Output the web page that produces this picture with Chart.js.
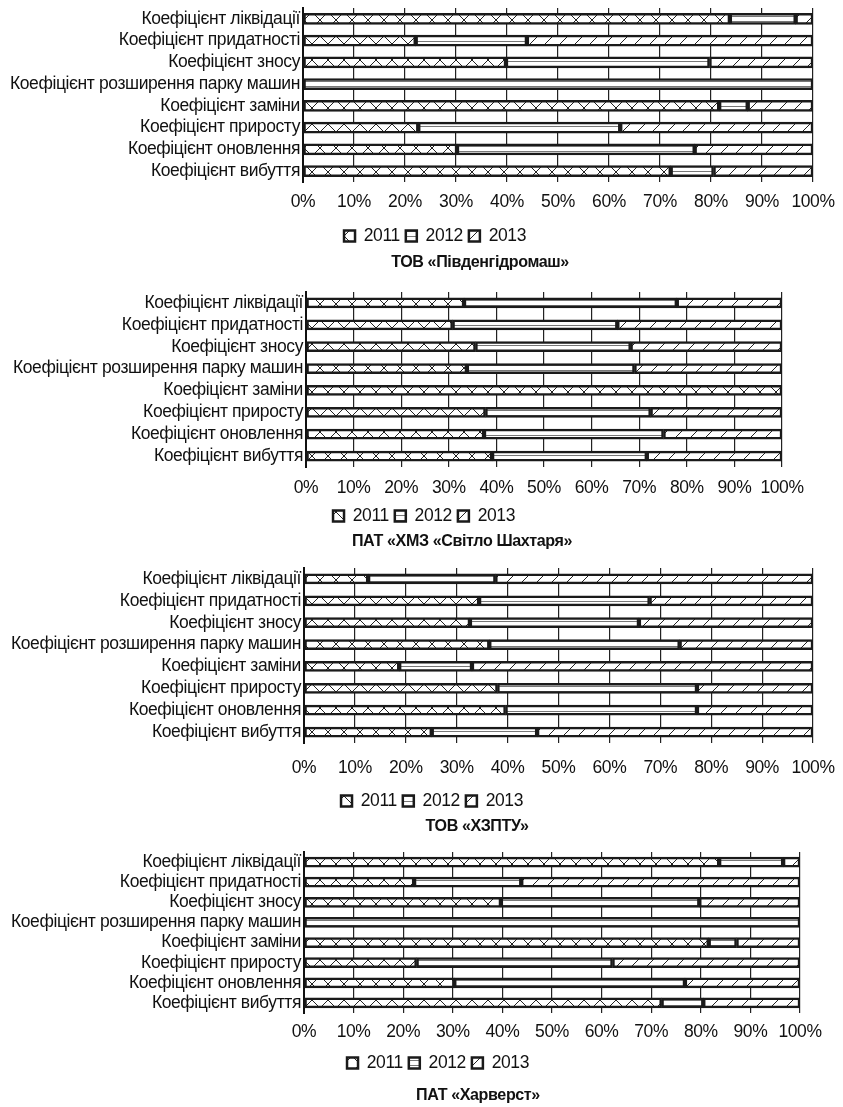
<!DOCTYPE html>
<html>
<head>
<meta charset="utf-8">
<script src="https://cdn.jsdelivr.net/npm/chart.js@4.4.0/dist/chart.umd.min.js"></script>
<style>
  body { margin: 0; background: #fff; width: 843px; height: 1107px; position: relative; overflow: hidden; }
  canvas { position: absolute; left: 0; }
</style>
</head>
<body>
<script>
// categories (top to bottom) and series
const categories = [
  'Коефіцієнт ліквідації',
  'Коефіцієнт придатності',
  'Коефіцієнт зносу',
  'Коефіцієнт розширення парку машин',
  'Коефіцієнт заміни',
  'Коефіцієнт приросту',
  'Коефіцієнт оновлення',
  'Коефіцієнт вибуття'
]
const years = ['2011', '2012', '2013']
const xTicks = [0, 10, 20, 30, 40, 50, 60, 70, 80, 90, 100]
const companies = ['ТОВ «Південгідромаш»', 'ПАТ «ХМЗ «Світло Шахтаря»', 'ТОВ «ХЗПТУ»', 'ПАТ «Харверст»']

// shares, %
const pivden2011 = [83.7, 22.1, 39.8, 0, 81.6, 22.6, 30.2, 72.1]
const pivden2012 = [12.9, 21.8, 39.9, 100, 5.6, 39.6, 46.6, 8.4]
const pivden2013 = [3.4, 56.1, 20.3, 0, 12.8, 37.8, 23.2, 19.5]

const svitlo2011 = [33.2, 30.8, 35.6, 33.8, 100, 37.7, 37.4, 39.1]
const svitlo2012 = [44.7, 34.6, 32.6, 35.2, 0, 34.7, 37.7, 32.5]
const svitlo2013 = [22.1, 34.6, 31.8, 31.0, 0, 27.6, 24.9, 28.4]

const khzptu2011 = [12.6, 34.4, 32.6, 36.4, 18.7, 38.0, 39.6, 25.1]
const khzptu2012 = [25.0, 33.5, 33.2, 37.4, 14.3, 39.2, 37.6, 20.7]
const khzptu2013 = [62.4, 32.1, 34.2, 26.2, 67.0, 22.8, 22.8, 54.2]

const harv2011 = [83.7, 22.2, 39.7, 0, 81.6, 22.7, 30.3, 72.1]
const harv2012 = [12.9, 21.6, 40.0, 100, 5.6, 39.5, 46.5, 8.4]
const harv2013 = [3.4, 56.2, 20.3, 0, 12.8, 37.8, 23.2, 19.5]

const seriesByChart = [
  [pivden2011, pivden2012, pivden2013],
  [svitlo2011, svitlo2012, svitlo2013],
  [khzptu2011, khzptu2012, khzptu2013],
  [harv2011, harv2012, harv2013]
]

// page layout of each chart block (px on the page)
const frames = [
  { plotTop: 8, plotBottom: 182, plotLeft: 303, plotRight: 813, tickY: 202, legendY: 236, legendX: 435, titleY: 263, titleX: 480, bar: 11 },
  { plotTop: 292, plotBottom: 467, plotLeft: 306, plotRight: 782, tickY: 488, legendY: 516, legendX: 424, titleY: 542, titleX: 462, bar: 10 },
  { plotTop: 568, plotBottom: 743, plotLeft: 304, plotRight: 813, tickY: 768, legendY: 801, legendX: 432, titleY: 827, titleX: 477, bar: 10 },
  { plotTop: 852, plotBottom: 1013, plotLeft: 304, plotRight: 800, tickY: 1032, legendY: 1063, legendX: 438, titleY: 1096, titleX: 478, bar: 10 }
]

const FONT = "'Liberation Sans Narrow', 'Liberation Sans', Arial, sans-serif"
const SPACING = '-0.4px'
const W = 843

// pick a size so the longest category label fits left of the axis
const probe = document.createElement('canvas').getContext('2d')
probe.letterSpacing = SPACING
let fontSize = 19
probe.font = fontSize + 'px ' + FONT
while (fontSize > 12 && Math.max(...categories.map(c => probe.measureText(c).width)) > 293) {
  fontSize -= 0.25
  probe.font = fontSize + 'px ' + FONT
}
const titleSize = Math.round(fontSize * 0.92 * 10) / 10

// hatch fills
const makePattern = (w, h, draw) => {
  const c = document.createElement('canvas')
  c.width = w
  c.height = h
  const g = c.getContext('2d')
  g.fillStyle = '#fff'
  g.fillRect(0, 0, w, h)
  g.strokeStyle = '#222'
  g.lineWidth = 1
  draw(g, w, h)
  return g.createPattern(c, 'repeat')
}

const crossFill = makePattern(16, 16, (g, w, h) => {
  g.beginPath()
  g.moveTo(0, 0); g.lineTo(w, h)
  g.moveTo(w, 0); g.lineTo(0, h)
  g.stroke()
})
const lineFill = makePattern(4, 5, (g, w, h) => {
  g.strokeStyle = '#777'
  g.beginPath()
  g.moveTo(0, 2.5); g.lineTo(w, 2.5)
  g.stroke()
})
const slashFill = makePattern(15, 15, (g, w, h) => {
  g.beginPath()
  g.moveTo(0, h); g.lineTo(w, 0)
  g.moveTo(-2, 2); g.lineTo(2, -2)
  g.moveTo(w - 2, h + 2); g.lineTo(w + 2, h - 2)
  g.stroke()
})
const fills = [crossFill, lineFill, slashFill]

// condensed look: tighter letter spacing on every chart context
const spacingPlugin = {
  id: 'spacing',
  beforeUpdate: (chart) => { chart.ctx.letterSpacing = SPACING },
  beforeDraw: (chart) => { chart.ctx.letterSpacing = SPACING }
}

// company caption under each chart
const captionPlugin = {
  id: 'caption',
  afterDraw: (chart, args, opts) => {
    const ctx = chart.ctx
    ctx.save()
    ctx.letterSpacing = SPACING
    ctx.font = 'bold ' + titleSize + 'px ' + FONT
    ctx.fillStyle = '#111'
    ctx.textAlign = 'center'
    ctx.textBaseline = 'middle'
    ctx.fillText(opts.text, opts.x, opts.y)
    ctx.restore()
  }
}

const legendPad = 6
const itemH = fontSize

frames.forEach((f, k) => {
  const canvasTop = f.plotTop - 4
  const xAxisH = f.legendY - f.plotBottom - legendPad - itemH / 2
  const tickPad = f.tickY - f.plotBottom - fontSize * 0.6
  const legendBottom = f.legendY + itemH / 2 + 10
  const canvasH = Math.round(f.titleY + 12 - canvasTop)
  const padBottom = f.titleY + 12 - legendBottom
  // negative right padding widens the full-width boxes so the legend centres on legendX
  const padRight = W - 2 * f.legendX

  const canvas = document.createElement('canvas')
  canvas.width = W
  canvas.height = canvasH
  canvas.style.top = canvasTop + 'px'
  document.body.appendChild(canvas)

  new Chart(canvas.getContext('2d'), {
    type: 'bar',
    plugins: [spacingPlugin, captionPlugin],
    data: {
      labels: categories,
      datasets: years.map((y, i) => ({
        label: y,
        data: seriesByChart[k][i],
        backgroundColor: fills[i],
        borderColor: '#1a1a1a',
        borderWidth: 2.5,
        borderSkipped: false,
        barThickness: f.bar
      }))
    },
    options: {
      indexAxis: 'y',
      responsive: false,
      animation: false,
      devicePixelRatio: 1,
      layout: { padding: { top: 4, left: 0, right: padRight, bottom: padBottom } },
      scales: {
        x: {
          stacked: true,
          min: 0,
          max: 100,
          afterBuildTicks: (scale) => { scale.ticks = xTicks.map(v => ({ value: v })) },
          afterFit: (scale) => {
            scale.height = xAxisH
            scale.paddingLeft = 0
            scale.paddingRight = W - f.plotRight
          },
          grid: { color: '#222', lineWidth: 1.2, drawTicks: false },
          border: { display: false },
          ticks: {
            padding: tickPad,
            autoSkip: false,
            maxRotation: 0,
            minRotation: 0,
            color: '#111',
            font: { family: FONT, size: fontSize },
            callback: (v) => v + '%'
          }
        },
        y: {
          stacked: true,
          afterFit: (scale) => {
            scale.width = f.plotLeft
            scale.paddingTop = 0
            scale.paddingBottom = 0
          },
          grid: { display: false, drawTicks: false },
          border: { display: true, color: '#111', width: 2 },
          ticks: {
            padding: 3,
            autoSkip: false,
            color: '#111',
            font: { family: FONT, size: fontSize }
          }
        }
      },
      plugins: {
        legend: {
          position: 'bottom',
          labels: {
            boxWidth: 11,
            boxHeight: 11,
            padding: legendPad,
            color: '#111',
            font: { family: FONT, size: fontSize }
          }
        },
        title: { display: false },
        caption: { text: companies[k], x: f.titleX, y: f.titleY - canvasTop },
        tooltip: { enabled: false }
      }
    }
  })
})
</script>
</body>
</html>
